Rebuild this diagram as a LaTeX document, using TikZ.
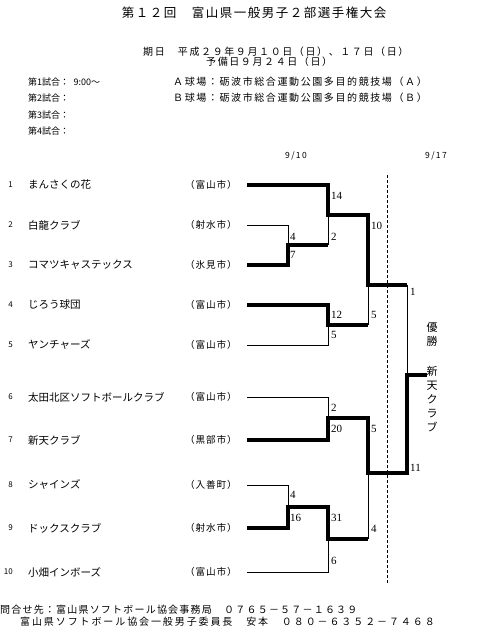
\documentclass[tikz,border=0pt]{standalone}
\usepackage{fontspec}
\usepackage{tikz}
\usetikzlibrary{positioning}
\setmainfont{Noto Sans CJK JP}
\newfontfamily\jp{Noto Sans CJK JP}
\newfontfamily\jpa[LetterSpace=12]{Noto Sans CJK JP}
\newfontfamily\jpb[LetterSpace=19]{Noto Sans CJK JP}
\newfontfamily\jpc[LetterSpace=16]{Noto Sans CJK JP}
\newfontfamily\jpd[LetterSpace=9]{Noto Sans CJK JP}
\newfontfamily\scorefont{Liberation Serif}
\tikzset{
titletext/.style={
inner sep=0,
font=\jpa\fontsize{12.5}{14}\selectfont
},
infotext/.style={
inner sep=0,
anchor=west,
font=\jpc\fontsize{10}{12}\selectfont
},
matchtext/.style={
inner sep=0,
anchor=west,
font=\jp\fontsize{9}{11}\selectfont
},
datetext/.style={
inner sep=0,
anchor=west,
font=\jpc\fontsize{8.5}{10}\selectfont
},
numtext/.style={
inner sep=0,
anchor=east,
font=\jp\fontsize{8}{9}\selectfont
},
team/.style={
inner sep=0,
anchor=west,
font=\jp\fontsize{10.5}{12}\selectfont
},
city/.style={
inner sep=0,
anchor=west,
font=\jpd\fontsize{9.6}{11}\selectfont
},
score/.style={
inner sep=0,
anchor=west,
font=\scorefont\fontsize{11}{12}\selectfont
},
wintext/.style={
inner sep=0,
align=center,
font=\jp\fontsize{11}{14}\selectfont
},
foottext/.style={
inner sep=0,
anchor=west,
font=\jpa\fontsize{10}{12}\selectfont
},
foottextb/.style={
inner sep=0,
anchor=west,
font=\jpb\fontsize{10}{12}\selectfont
},
win/.style={
line width=3.3pt
},
lose/.style={
line width=0.8pt
},
divider/.style={
line width=0.8pt,
dash pattern=on 3pt off 2pt
}
}
\begin{document}
\begin{tikzpicture}[x=1pt,y=-1pt]
\useasboundingbox (0,0) rectangle (488,636);
\node[titletext](title) at (254,13){第１２回　富山県一般男子２部選手権大会};
\node[infotext](date) at (143,52){期日　平成２９年９月１０日（日）、１７日（日）};
\node[infotext](spare) at (206,62){予備日９月２４日（日）};
\node[matchtext](m1) at (28,82){第1試合：\enspace 9:00～};
\node[matchtext](m2) at (28,98){第2試合：};
\node[matchtext](m3) at (28,115){第3試合：};
\node[matchtext](m4) at (28,131){第4試合：};
\node[infotext](fa) at (173,82){Ａ球場：砺波市総合運動公園多目的競技場（Ａ）};
\node[infotext](fb) at (173,98){Ｂ球場：砺波市総合運動公園多目的競技場（Ｂ）};
\node[datetext](d1) at (285,156){9/10};
\node[datetext](d2) at (425,156){9/17};

\node[numtext](n1) at (13,185){1};
\node[numtext](n2) at (13,225){2};
\node[numtext](n3) at (13,265){3};
\node[numtext](n4) at (13,305){4};
\node[numtext](n5) at (13,345){5};
\node[numtext](n6) at (13,397){6};
\node[numtext](n7) at (13,440){7};
\node[numtext](n8) at (13,485){8};
\node[numtext](n9) at (13,528){9};
\node[numtext](n10) at (13,572){10};

\node[team,right=15pt of n1](t1){まんさくの花};
\node[team,right=15pt of n2](t2){白龍クラブ};
\node[team,right=15pt of n3](t3){コマツキャステックス};
\node[team,right=15pt of n4](t4){じろう球団};
\node[team,right=15pt of n5](t5){ヤンチャーズ};
\node[team,right=15pt of n6](t6){太田北区ソフトボールクラブ};
\node[team,right=15pt of n7](t7){新天クラブ};
\node[team,right=15pt of n8](t8){シャインズ};
\node[team,right=15pt of n9](t9){ドックスクラブ};
\node[team,right=15pt of n10](t10){小畑インボーズ};

\node[city](c1) at (185,185){（富山市）};
\node[city](c2) at (185,225){（射水市）};
\node[city](c3) at (185,265){（氷見市）};
\node[city](c4) at (185,305){（富山市）};
\node[city](c5) at (185,345){（富山市）};
\node[city](c6) at (185,397){（富山市）};
\node[city](c7) at (185,440){（黒部市）};
\node[city](c8) at (185,485){（入善町）};
\node[city](c9) at (185,528){（射水市）};
\node[city](c10) at (185,572){（富山市）};

\coordinate (e1) at (247,185);
\coordinate (e2) at (247,225);
\coordinate (e3) at (247,265);
\coordinate (e4) at (247,305);
\coordinate (e5) at (247,345);
\coordinate (e6) at (247,397);
\coordinate (e7) at (247,440);
\coordinate (e8) at (247,485);
\coordinate (e9) at (247,528);
\coordinate (e10) at (247,572);
\coordinate (j23) at (288,245);
\coordinate (j89) at (288,507);
\coordinate (j1) at (328,215);
\coordinate (j45) at (328,325);
\coordinate (j67) at (328,418);
\coordinate (j10) at (328,539);
\coordinate (jt) at (368,285);
\coordinate (jb) at (368,473);
\coordinate (jf) at (407,375);
\coordinate (w) at (427,375);
\coordinate (dt) at (387,175);
\coordinate (db) at (387,583);

\draw[lose](e2) -| (j23);
\draw[lose](j23 -| j1) -- (j1);
\draw[lose](e5) -| (j45);
\draw[lose](j45 -| jt) -- (jt);
\draw[lose](e6) -| (j67);
\draw[lose](e8) -| (j89);
\draw[lose](e10) -| (j10);
\draw[lose](j10 -| jb) -- (jb);
\draw[lose](jt -| jf) -- (jf);
\draw[win](e1) -| (j1) -| (jt) -- (jt -| jf);
\draw[win](e3) -| (j23) -- (j23 -| j1);
\draw[win](e4) -| (j45) -- (j45 -| jt);
\draw[win](e7) -| (j67) -| (jb) -- (jb -| jf) |- (w);
\draw[win](e9) -| (j89) -- (j89 -| j10) |- (j10 -| jb);
\draw[divider](dt) -- (db);

\node[score](s1) at (331,196){14};
\node[score](s2) at (331,237){2};
\node[score](s3) at (290,237){4};
\node[score](s4) at (290,255){7};
\node[score](s5) at (371,226){10};
\node[score](s6) at (410,292){1};
\node[score](s7) at (331,315){12};
\node[score](s8) at (331,335){5};
\node[score](s9) at (371,315){5};
\node[score](s10) at (331,408){2};
\node[score](s11) at (331,429){20};
\node[score](s12) at (371,429){5};
\node[score](s13) at (410,468){11};
\node[score](s14) at (290,495){4};
\node[score](s15) at (290,518){16};
\node[score](s16) at (331,518){31};
\node[score](s17) at (371,529){4};
\node[score](s18) at (331,561){6};

\node[wintext](v1) at (432,334){優\\勝};
\node[wintext](v2) at (432,399){新\\天\\ク\\ラ\\ブ};

\node[foottext](q1) at (0,610){問合せ先：富山県ソフトボール協会事務局　０７６５－５７－１６３９};
\node[foottextb](q2) at (20,622){富山県ソフトボール協会一般男子委員長　安本　０８０－６３５２－７４６８};
\end{tikzpicture}
\end{document}
